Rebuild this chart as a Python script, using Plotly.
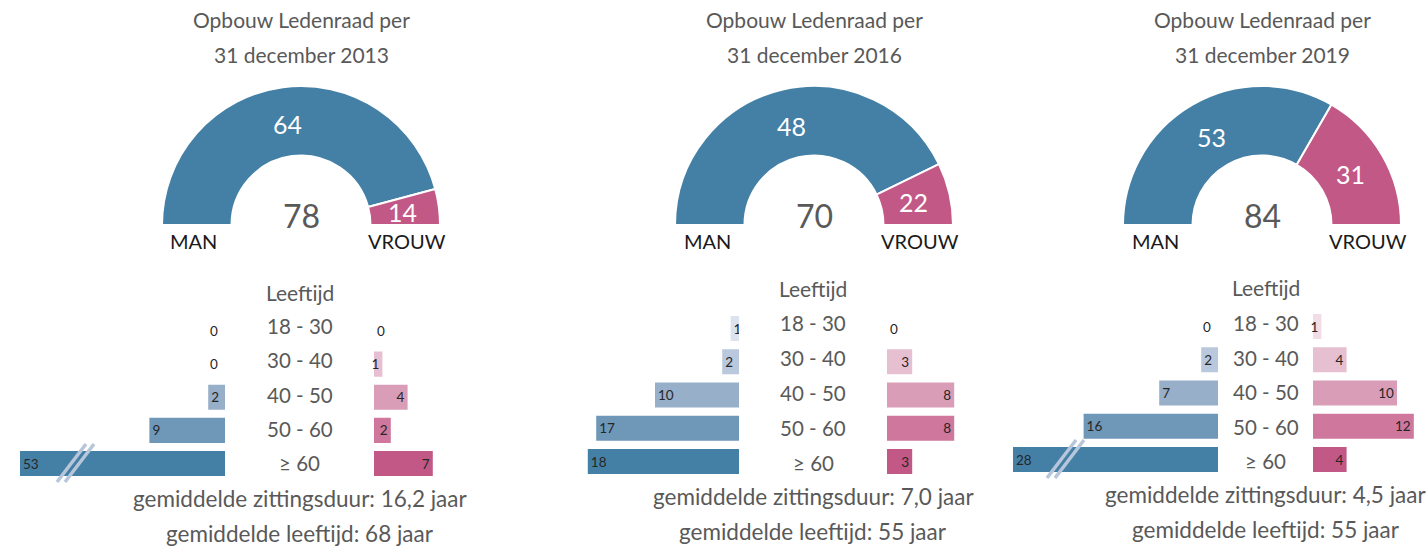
import math
import plotly.graph_objects as go

# ---------------- data ----------------
years = ["2013", "2016", "2019"]
man_total = [64, 48, 53]
vrouw_total = [14, 22, 31]
# share of the half ring as drawn in the source (degrees of the 180-degree arc)
arc_man = [165, 154, 120]
arc_vrouw = [15, 26, 60]

ages = ["18 - 30", "30 - 40", "40 - 50", "50 - 60", "≥ 60"]
man_age = {
    "2013": [0, 0, 2, 9, 53],
    "2016": [1, 2, 10, 17, 18],
    "2019": [0, 2, 7, 16, 28],
}
vrouw_age = {
    "2013": [0, 1, 4, 2, 7],
    "2016": [0, 3, 8, 8, 3],
    "2019": [1, 4, 10, 12, 4],
}
zittingsduur = ["16,2", "7,0", "4,5"]
gem_leeftijd = [68, 55, 55]

# ---------------- style / layout constants ----------------
W, H = 1427, 548
FONT = "Lato"
GREY = "#595959"
BLUE = "#4480a6"
PINK = "#c25886"
man_colors = ["#dde3ee", "#b9c8dc", "#98afc9", "#6f97b8", "#4480a6"]
vrouw_colors = ["#f2dde7", "#e6bfd1", "#da9db7", "#cf779d", "#c25886"]

PX_PER = 8.4          # pixels per person in the bar pyramids
LEFT_W = 205          # pixel width of the left (man) bar area
RIGHT_W = 110
CAP = LEFT_W / PX_PER  # bars longer than this are drawn broken
BAR_FONT = 13.5

panels = [
    dict(cx=301, lr=225, rl=374, r1=331.0, r5=463.5, l1=326, l5=463, lt=292, brk=(57, 86)),
    dict(cx=814, lr=739, rl=887, r1=328.5, r5=461.5, l1=323, l5=463, lt=288, brk=None),
    dict(cx=1262, lr=1218, rl=1313, r1=326.5, r5=459.5, l1=323, l5=461, lt=287, brk=(1047, 1076)),
]
PIE_BASE = 225
PIE_R = 139
LABEL_R = 102


def X(px):
    return px / W


def Y(py):
    return 1 - py / H


fig = go.Figure()
annotations = []
shapes = []
layout_axes = {}


def ann(x, y, text, size, color=GREY, xref="paper", yref="paper", **kw):
    d = dict(x=x, y=y, xref=xref, yref=yref, text=text,
             showarrow=False, font=dict(family=FONT, size=size, color=color),
             xanchor="center", yanchor="middle")
    d.update(kw)
    annotations.append(d)


for i, (yr, p) in enumerate(zip(years, panels)):
    cx = p["cx"]
    # ---- titles ----
    ann(X(cx), Y(20), "Opbouw Ledenraad per", 21)
    ann(X(cx), Y(54), f"31 december {yr}", 21)

    # ---- half donut ----
    fig.add_trace(go.Pie(
        values=[arc_man[i], arc_vrouw[i], arc_man[i] + arc_vrouw[i]],
        textinfo="none",
        marker=dict(colors=[BLUE, PINK, "rgba(0,0,0,0)"],
                    line=dict(color=["white", "white", "rgba(0,0,0,0)"], width=2)),
        hole=0.5,
        sort=False,
        direction="clockwise",
        rotation=-90,
        showlegend=False,
        hoverinfo="skip",
        domain=dict(x=[X(cx - PIE_R), X(cx + PIE_R)],
                    y=[Y(PIE_BASE + PIE_R), Y(PIE_BASE - PIE_R)]),
    ))
    # slice labels at the middle of each arc
    total_arc = arc_man[i] + arc_vrouw[i]
    mid_man = 180 - (arc_man[i] / total_arc * 180) / 2
    mid_vrouw = (arc_vrouw[i] / total_arc * 180) / 2
    for val, ang in ((man_total[i], mid_man), (vrouw_total[i], mid_vrouw)):
        a = math.radians(ang)
        ann(X(cx + LABEL_R * math.cos(a)), Y(PIE_BASE - LABEL_R * math.sin(a)),
            str(val), 25, color="white")

    ann(X(cx), Y(216), str(man_total[i] + vrouw_total[i]), 32)
    ann(X(cx - 107), Y(241), "MAN", 20, color="#1a1a1a")
    ann(X(cx + 106), Y(241), "VROUW", 20, color="#1a1a1a")

    # ---- age pyramid ----
    step = (p["r5"] - p["r1"]) / 4
    ydom = [Y(p["r5"] + step / 2), Y(p["r1"] - step / 2)]
    nL, nR = 2 * i + 1, 2 * i + 2
    xl = "x" if nL == 1 else f"x{nL}"
    yl = "y" if nL == 1 else f"y{nL}"
    xr, yrr = f"x{nR}", f"y{nR}"

    mv = man_age[yr]
    vv = vrouw_age[yr]
    fig.add_trace(go.Bar(
        y=ages, x=[min(v, CAP) for v in mv], orientation="h",
        xaxis=xl, yaxis=yl,
        marker=dict(color=man_colors, line=dict(width=0)),
        text=["" if v == 0 else str(v) for v in mv],
        textposition="inside",
        insidetextanchor="end",
        constraintext="none",
        textfont=dict(family=FONT, size=BAR_FONT, color="#262626"),
        showlegend=False, hoverinfo="skip",
    ))
    # zero-count labels for the man side sit just left of the axis zero
    for a, v in zip(ages, mv):
        if v == 0:
            ann(0, a, "0", BAR_FONT, color="#262626", xref=xl, yref=yl,
                xanchor="right", xshift=-5)
    fig.add_trace(go.Bar(
        y=ages, x=vv, orientation="h",
        xaxis=xr, yaxis=yrr,
        marker=dict(color=vrouw_colors, line=dict(width=0)),
        text=[str(v) for v in vv],
        textposition=["outside" if v == 0 else "inside" for v in vv],
        insidetextanchor="end",
        constraintext="none",
        textfont=dict(family=FONT, size=BAR_FONT, color="#262626"),
        cliponaxis=False,
        showlegend=False, hoverinfo="skip",
    ))
    axis_common = dict(showgrid=False, zeroline=False, showticklabels=False,
                       showline=False, ticks="", fixedrange=True)
    layout_axes["xaxis" if nL == 1 else f"xaxis{nL}"] = dict(
        domain=[X(p["lr"] - LEFT_W), X(p["lr"])], range=[CAP, 0], anchor=yl, **axis_common)
    layout_axes["yaxis" if nL == 1 else f"yaxis{nL}"] = dict(
        domain=ydom, type="category", categoryarray=ages, categoryorder="array",
        autorange="reversed", anchor=xl, **axis_common)
    layout_axes[f"xaxis{nR}"] = dict(
        domain=[X(p["rl"]), X(p["rl"] + RIGHT_W)], range=[0, RIGHT_W / PX_PER], anchor=yrr, **axis_common)
    layout_axes[f"yaxis{nR}"] = dict(
        domain=ydom, type="category", categoryarray=ages, categoryorder="array",
        autorange="reversed", anchor=xr, **axis_common)

    mid = (p["lr"] + p["rl"]) / 2
    ann(X(mid), Y(p["lt"]), "Leeftijd", 21)
    lstep = (p["l5"] - p["l1"]) / (len(ages) - 1)
    for j, a in enumerate(ages):
        ann(X(mid), Y(p["l1"] + j * lstep), a, 20.5)

    ann(X(mid), Y(p["r5"] + 35), f"gemiddelde zittingsduur: {zittingsduur[i]} jaar", 22.5)
    ann(X(mid), Y(p["r5"] + 70), f"gemiddelde leeftijd: {gem_leeftijd[i]} jaar", 22.5)

    # ---- break marks on truncated bars ----
    if p["brk"] is not None:
        x0, x1 = p["brk"]
        yb, yt = p["r5"] + 18.5, p["r5"] - 19.5
        for off in (0, 8):
            shapes.append(dict(type="line", xref="paper", yref="paper",
                               x0=X(x0 + off), x1=X(x1 + off), y0=Y(yb), y1=Y(yt),
                               line=dict(color="#b7c6da", width=3.5), layer="above"))

fig.update_layout(
    width=W, height=H, autosize=False,
    margin=dict(l=0, r=0, t=0, b=0),
    paper_bgcolor="white", plot_bgcolor="white",
    bargap=0.245,
    annotations=annotations,
    shapes=shapes,
    font=dict(family=FONT, color=GREY),
    **layout_axes,
)

fig.write_html("out.html")
